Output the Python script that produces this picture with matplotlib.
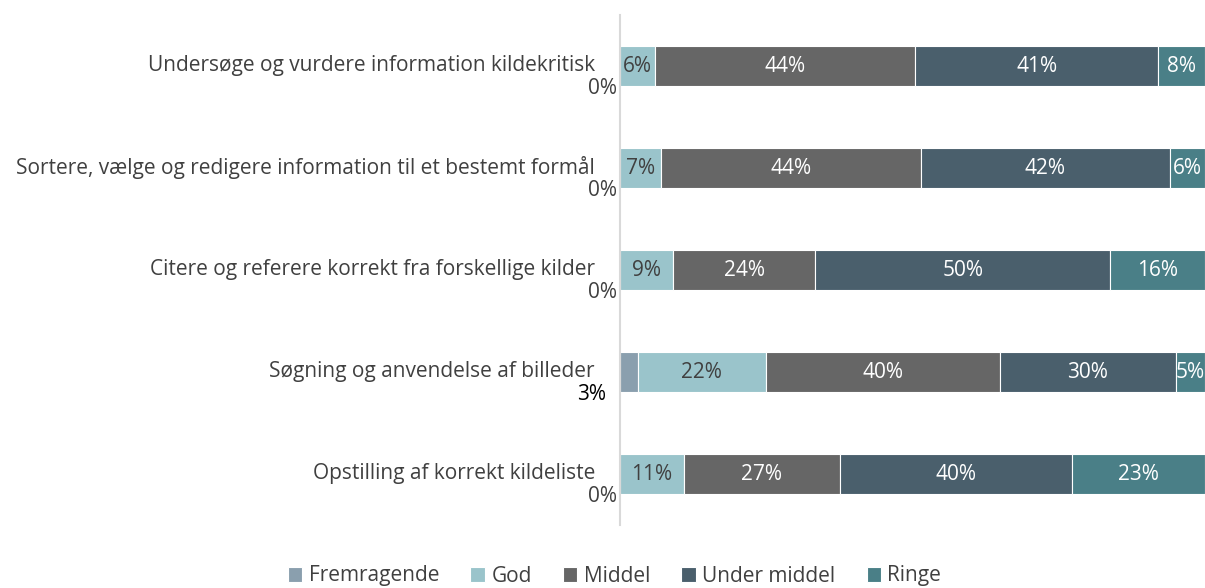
import numpy as np
import matplotlib
matplotlib.use("Agg")
from matplotlib import pyplot as plt

plt.rcParams["font.family"] = ["Open Sans", "DejaVu Sans"]

categories = [
    "Undersøge og vurdere information kildekritisk",
    "Sortere, vælge og redigere information til et bestemt formål",
    "Citere og referere korrekt fra forskellige kilder",
    "Søgning og anvendelse af billeder",
    "Opstilling af korrekt kildeliste",
]
series = ["Fremragende", "God", "Middel", "Under middel", "Ringe"]
fremragende = [0, 0, 0, 3, 0]
god = [6, 7, 9, 22, 11]
middel = [44, 44, 24, 40, 27]
under_middel = [41, 42, 50, 30, 40]
ringe = [8, 6, 16, 5, 23]

colors = ["#8A9FAE", "#9AC4CB", "#666666", "#4A5F6C", "#4A7F87"]
text_colors = ["#404040", "#404040", "white", "white", "white"]

fig = plt.figure(figsize=(12.05, 5.88), dpi=100)
ax = fig.add_axes([620 / 1205, 1 - 525 / 588, 1 - 620 / 1205, 510 / 588])

data = np.array([fremragende, god, middel, under_middel, ringe], dtype=float)
# 100% stacked: each row scaled to its own total
shares = data / data.sum(axis=0) * 100

fs = 15
y = np.arange(len(categories))
left = np.zeros(len(categories))
for k, (name, col, tc) in enumerate(zip(series, colors, text_colors)):
    vals = shares[k]
    ax.barh(y, vals, left=left, height=0.4, color=col, edgecolor="white",
            linewidth=0.8, label=name)
    for i, v in enumerate(vals):
        lab = "%d%%" % data[k][i]
        if name == "Fremragende":
            # labels for the first series sit below-left of the bar start
            off = -10 if v > 0 else -2
            c = "black" if v > 0 else "#404040"
            ax.annotate(lab, xy=(0, y[i] + 0.22), xytext=(off, 0),
                        textcoords="offset points", ha="right", va="center",
                        fontsize=fs, color=c, annotation_clip=False)
        else:
            ax.text(left[i] + v / 2, y[i], lab, ha="center",
                    va="center", fontsize=fs, color=tc)
    left += vals

ax.set_xlim(0, 100)
ax.set_ylim(len(categories) - 0.5, -0.5)
ax.set_yticks(y - 0.03)
ax.set_yticklabels(categories, fontsize=fs, color="#404040")
ax.tick_params(axis="y", length=0, pad=18)
ax.set_xticks([])
for s in ["top", "right", "bottom"]:
    ax.spines[s].set_visible(False)
ax.spines["left"].set_color("#D9D9D9")
ax.spines["left"].set_linewidth(1.5)

fig.legend(loc="center", bbox_to_anchor=(0.51, 1 - 576 / 588), ncol=5,
           frameon=False, fontsize=fs, handlelength=0.7, handleheight=0.7,
           handletextpad=0.3, columnspacing=1.5, labelcolor="#404040")

fig.savefig("out.png", dpi=100)
